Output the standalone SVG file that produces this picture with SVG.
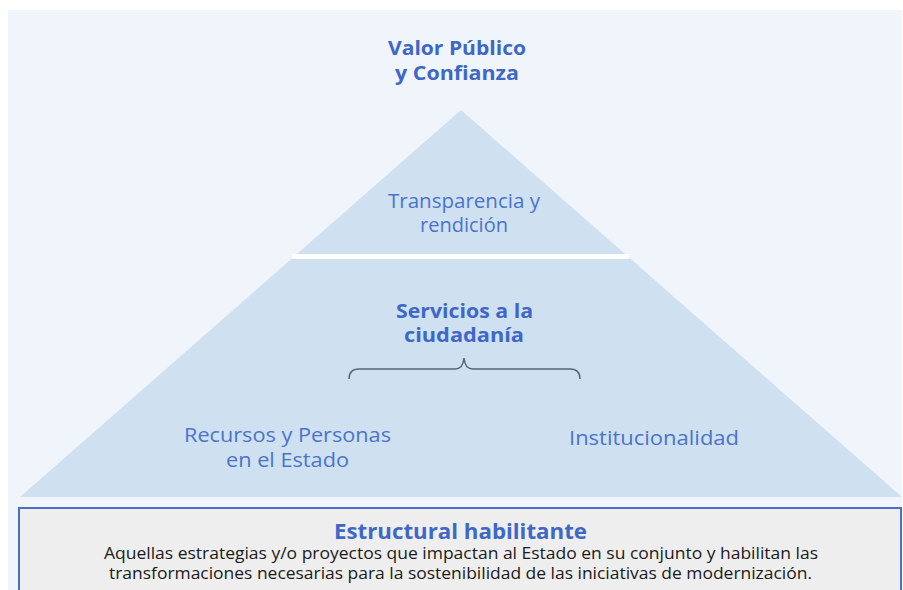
<svg xmlns="http://www.w3.org/2000/svg" width="903" height="590" viewBox="0 0 903 590">
<style>
.t{font-family:"Open Sans","Liberation Sans",sans-serif;fill:#4b74c9;text-anchor:middle;font-size:19.5px}
.b{font-weight:700;fill:#3f67c6;font-size:20px}
.d{font-family:"Open Sans","Liberation Sans",sans-serif;fill:#1a1a1a;text-anchor:middle;font-size:16px}
</style>
<rect x="0" y="0" width="903" height="590" fill="#ffffff"/>
<rect x="8" y="10" width="894" height="580" fill="#f0f4fb"/>
<g id="top">
<text class="t b" x="457" y="55" textLength="138" lengthAdjust="spacingAndGlyphs">Valor Público</text>
<text class="t b" x="457" y="80" textLength="124" lengthAdjust="spacingAndGlyphs">y Confianza</text>
</g>
<g id="pyramid">
<polygon points="461,110 20,497 902,497" fill="#cfe0f1"/>
<rect x="292" y="254" width="337" height="5" fill="#ffffff"/>
</g>
<g id="transparencia">
<text class="t" x="464" y="208" textLength="152" lengthAdjust="spacingAndGlyphs">Transparencia y</text>
<text class="t" x="464" y="232" textLength="88" lengthAdjust="spacingAndGlyphs">rendición</text>
</g>
<g id="servicios">
<text class="t b" x="464.5" y="318" textLength="137" lengthAdjust="spacingAndGlyphs">Servicios a la</text>
<text class="t b" x="464" y="342" textLength="120" lengthAdjust="spacingAndGlyphs">ciudadanía</text>
</g>
<g id="connectors">
<path d="M349,379 Q349,369 359,369 L455,369 Q463,369 464,358 Q465,369 473,369 L570,369 Q580,369 580,379" fill="none" stroke="#56657a" stroke-width="1.5"/>
</g>
<g id="recursos">
<text class="t" x="287.5" y="442" textLength="207" lengthAdjust="spacingAndGlyphs">Recursos y Personas</text>
<text class="t" x="287.5" y="467" textLength="123" lengthAdjust="spacingAndGlyphs">en el Estado</text>
</g>
<g id="institucionalidad">
<text class="t" x="654" y="445" textLength="170" lengthAdjust="spacingAndGlyphs">Institucionalidad</text>
</g>
<g id="estructural">
<rect x="19" y="508" width="882" height="90" fill="#eeeeee" stroke="#4b6fc6" stroke-width="2"/>
<text class="t b" x="460.5" y="539" font-size="22" style="font-size:22px" textLength="253" lengthAdjust="spacingAndGlyphs">Estructural habilitante</text>
<text class="d" x="461" y="559" textLength="714" lengthAdjust="spacingAndGlyphs">Aquellas estrategias y/o proyectos que impactan al Estado en su conjunto y habilitan las</text>
<text class="d" x="460.5" y="579" textLength="703" lengthAdjust="spacingAndGlyphs">transformaciones necesarias para la sostenibilidad de las iniciativas de modernización.</text>
</g>
</svg>
